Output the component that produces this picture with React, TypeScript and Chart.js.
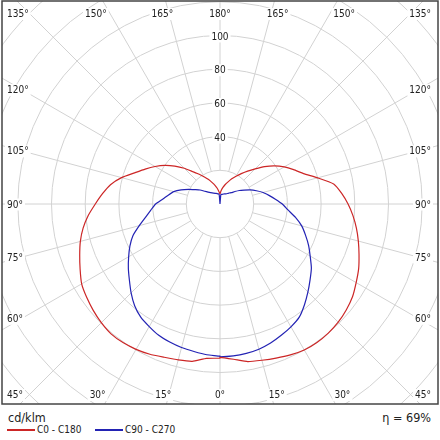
import React, { useEffect, useRef } from 'react';
import { Chart, registerables } from 'chart.js';

Chart.register(...registerables);

// gamma angle in degrees, 0 = straight down, 180 = straight up
const gammas = [0, 5, 10, 15, 20, 25, 30, 35, 40, 45, 50, 55, 60, 65, 70, 75, 80, 85, 90,
  95, 100, 105, 110, 115, 120, 125, 130, 135, 140, 145, 150, 155, 160, 165, 170, 175, 180];

// luminous intensity, cd/klm
const c0 = [91, 92.5, 95, 96, 97.3, 98.8, 100, 100.3, 100, 99.2, 97.8, 96, 93.3, 90.8, 87.8, 85, 82.2, 79.2, 76,
  72.5, 68.5, 60, 52.8, 48.2, 44, 39.5, 34.5, 29.5, 25.5, 22, 19, 16.5, 14, 12, 10, 8, 6];
const c180 = [91.5, 92, 94.8, 95.8, 96.8, 98.4, 99.6, 100.4, 100.6, 99.6, 98.2, 96.6, 94.8, 91.6, 88.6, 85.8, 82.5, 78.5, 74,
  70, 66, 60.5, 54, 49, 44.5, 40, 35, 30, 25, 21.5, 18.5, 16, 13.5, 11.5, 9.5, 7.5, 6];
const c90 = [90.7, 90.5, 90, 89.2, 87.8, 86, 84.2, 82, 78, 73.8, 69.8, 66.2, 61.8, 58, 54, 50.2, 45.5, 40.5, 37,
  33, 29.5, 26.5, 23, 19.8, 16.5, 14, 11.5, 9.5, 8.5, 7.6, 7, 6.6, 6.3, 6, 5.8, 5.6, 0];
const c270 = [90.3, 89.8, 88.9, 88.2, 87.2, 86, 84, 82, 78.8, 74.6, 70.2, 66.4, 62.6, 59, 55, 49.6, 44.8, 41.2, 38.2,
  34, 31, 28.4, 24.5, 20.5, 17, 14.5, 11.8, 10, 8.8, 8, 7.4, 7, 6.7, 6.4, 6.1, 5.8, 0];

const seriesNames = ['C0 - C180', 'C90 - C270'];
const seriesColors = ['#cc2626', '#2323b4'];

const ringValues = [20, 40, 60, 80, 100, 120, 140, 160, 180, 200];
const ringLabels = [40, 60, 80, 100];
const angleTicks = [0, 15, 30, 45, 60, 75, 90, 105, 120, 135, 150, 165, 180];

const unitLabel = 'cd/klm';
const efficiencyLabel = 'η = 69%';

const FONT = "'DejaVu Sans Condensed', 'DejaVu Sans', sans-serif";
const GRID = '#d2d2d2';
const TEXT = '#222';
const PX_PER_UNIT = 1.685;

const rad = (d: number) => (d * Math.PI) / 180;

// left half runs 180 -> 0, right half 0 -> 180, so one polyline per plane
const toPoints = (left: number[], right: number[]) => {
  const pts: { x: number; y: number }[] = [];
  for (let i = gammas.length - 1; i >= 0; i--) {
    const t = rad(gammas[i]);
    pts.push({ x: -left[i] * Math.sin(t), y: -left[i] * Math.cos(t) });
  }
  for (let i = 0; i < gammas.length; i++) {
    const t = rad(gammas[i]);
    pts.push({ x: right[i] * Math.sin(t), y: -right[i] * Math.cos(t) });
  }
  return pts;
};

const polarGrid = {
  id: 'polarGrid',
  beforeDatasetsDraw(chart: any) {
    const { ctx, chartArea: a } = chart;
    const sx = chart.scales.x;
    const sy = chart.scales.y;
    const cx = sx.getPixelForValue(0);
    const cy = sy.getPixelForValue(0);
    const unit = sx.getPixelForValue(1) - cx;

    ctx.save();
    ctx.beginPath();
    ctx.rect(a.left, a.top, a.right - a.left, a.bottom - a.top);
    ctx.clip();

    ctx.strokeStyle = GRID;
    ctx.lineWidth = 1;
    ringValues.forEach((r) => {
      ctx.beginPath();
      ctx.arc(cx, cy, r * unit, 0, Math.PI * 2);
      ctx.stroke();
    });
    const inner = ringValues[0];
    const outer = ringValues[ringValues.length - 1];
    for (let g = 0; g < 360; g += 15) {
      const t = rad(g);
      ctx.beginPath();
      ctx.moveTo(sx.getPixelForValue(inner * Math.sin(t)), sy.getPixelForValue(-inner * Math.cos(t)));
      ctx.lineTo(sx.getPixelForValue(outer * Math.sin(t)), sy.getPixelForValue(-outer * Math.cos(t)));
      ctx.stroke();
    }

    ctx.font = `10px ${FONT}`;
    ctx.textBaseline = 'alphabetic';
    const label = (txt: string, x: number, baseline: number) => {
      const w = ctx.measureText(txt).width;
      ctx.fillStyle = '#fff';
      ctx.fillRect(x - w / 2 - 2, baseline - 9, w + 4, 12);
      ctx.fillStyle = TEXT;
      ctx.textAlign = 'center';
      ctx.fillText(txt, x, baseline);
    };

    ringLabels.forEach((v) => label(String(v), cx, sy.getPixelForValue(v) + 4));

    angleTicks.forEach((g) => {
      [1, -1].forEach((side) => {
        if ((g === 0 || g === 180) && side === -1) return;
        const txt = `${g}°`;
        const w = ctx.measureText(txt).width;
        const t = rad(g);
        const dx = side * Math.sin(t);
        const dy = Math.cos(t);
        const tx = dx > 1e-9 ? (a.right - cx) / dx : dx < -1e-9 ? (a.left - cx) / dx : Infinity;
        const ty = dy > 1e-9 ? (a.bottom - cy) / dy : dy < -1e-9 ? (a.top - cy) / dy : Infinity;
        const minX = a.left + 5 + w / 2;
        const maxX = a.right - 7 - w / 2;
        let lx: number;
        let ly: number;
        if (ty <= tx) {
          lx = cx + dx * ty + side * 12 * Math.abs(Math.tan(t));
          lx = Math.min(maxX, Math.max(minX, lx));
          ly = dy > 0 ? a.bottom - 6 : a.top + 16;
        } else {
          const refX = dx > 0 ? a.right - 20 : a.left + 20;
          lx = dx > 0 ? maxX : minX;
          ly = cy + (dy * (refX - cx)) / dx + 3.5;
        }
        label(txt, lx, ly);
      });
    });
    ctx.restore();
  },
  afterDraw(chart: any) {
    const { ctx, chartArea: a } = chart;
    ctx.save();
    ctx.strokeStyle = '#444';
    ctx.lineWidth = 1.5;
    ctx.strokeRect(a.left, a.top, a.right - a.left, a.bottom - a.top);
    ctx.restore();
  },
};

const App = () => {
  const canvasRef = useRef<HTMLCanvasElement>(null);

  useEffect(() => {
    const ctx = canvasRef.current && canvasRef.current.getContext('2d');
    if (!ctx) return;
    // plot box 2..438 x 1..404, centre at (220, 204)
    const halfW = 218 / PX_PER_UNIT;
    const config: any = {
      type: 'scatter',
      data: {
        datasets: [
          { label: seriesNames[0], data: toPoints(c180, c0), borderColor: seriesColors[0] },
          { label: seriesNames[1], data: toPoints(c270, c90), borderColor: seriesColors[1] },
        ].map((d) => ({ ...d, showLine: true, pointRadius: 0, borderWidth: 1.2, tension: 0.15, fill: false })),
      },
      options: {
        responsive: false,
        animation: false,
        layout: { padding: { left: 2, top: 1, right: 2, bottom: 2 } },
        scales: {
          x: { type: 'linear', display: false, min: -halfW, max: halfW },
          y: { type: 'linear', display: false, min: -200 / PX_PER_UNIT, max: 203 / PX_PER_UNIT },
        },
        plugins: { legend: { display: false }, tooltip: { enabled: false } },
      },
      plugins: [polarGrid],
    };
    const chart = new Chart(ctx, config);
    return () => {
      chart.destroy();
    };
  }, []);

  const sample = (left: number, color: string) => (
    <div style={{ position: 'absolute', left, top: 429, width: 28, height: 1.5, background: color }} />
  );

  return (
    <div style={{ position: 'absolute', left: 0, top: 0, width: 440, height: 440, background: '#fff', fontFamily: FONT, color: TEXT }}>
      <canvas ref={canvasRef} width={440} height={406} style={{ position: 'absolute', left: 0, top: 0 }} />
      <div style={{ position: 'absolute', left: 8, top: 410, fontSize: 12.5, lineHeight: '15px' }}>{unitLabel}</div>
      <div style={{ position: 'absolute', right: 9, top: 410, fontSize: 12.5, lineHeight: '15px' }}>{efficiencyLabel}</div>
      {sample(7, seriesColors[0])}
      <div style={{ position: 'absolute', left: 37, top: 424, fontSize: 10, lineHeight: '12px' }}>{seriesNames[0]}</div>
      {sample(95, seriesColors[1])}
      <div style={{ position: 'absolute', left: 125, top: 424, fontSize: 10, lineHeight: '12px' }}>{seriesNames[1]}</div>
    </div>
  );
};

export default App;
